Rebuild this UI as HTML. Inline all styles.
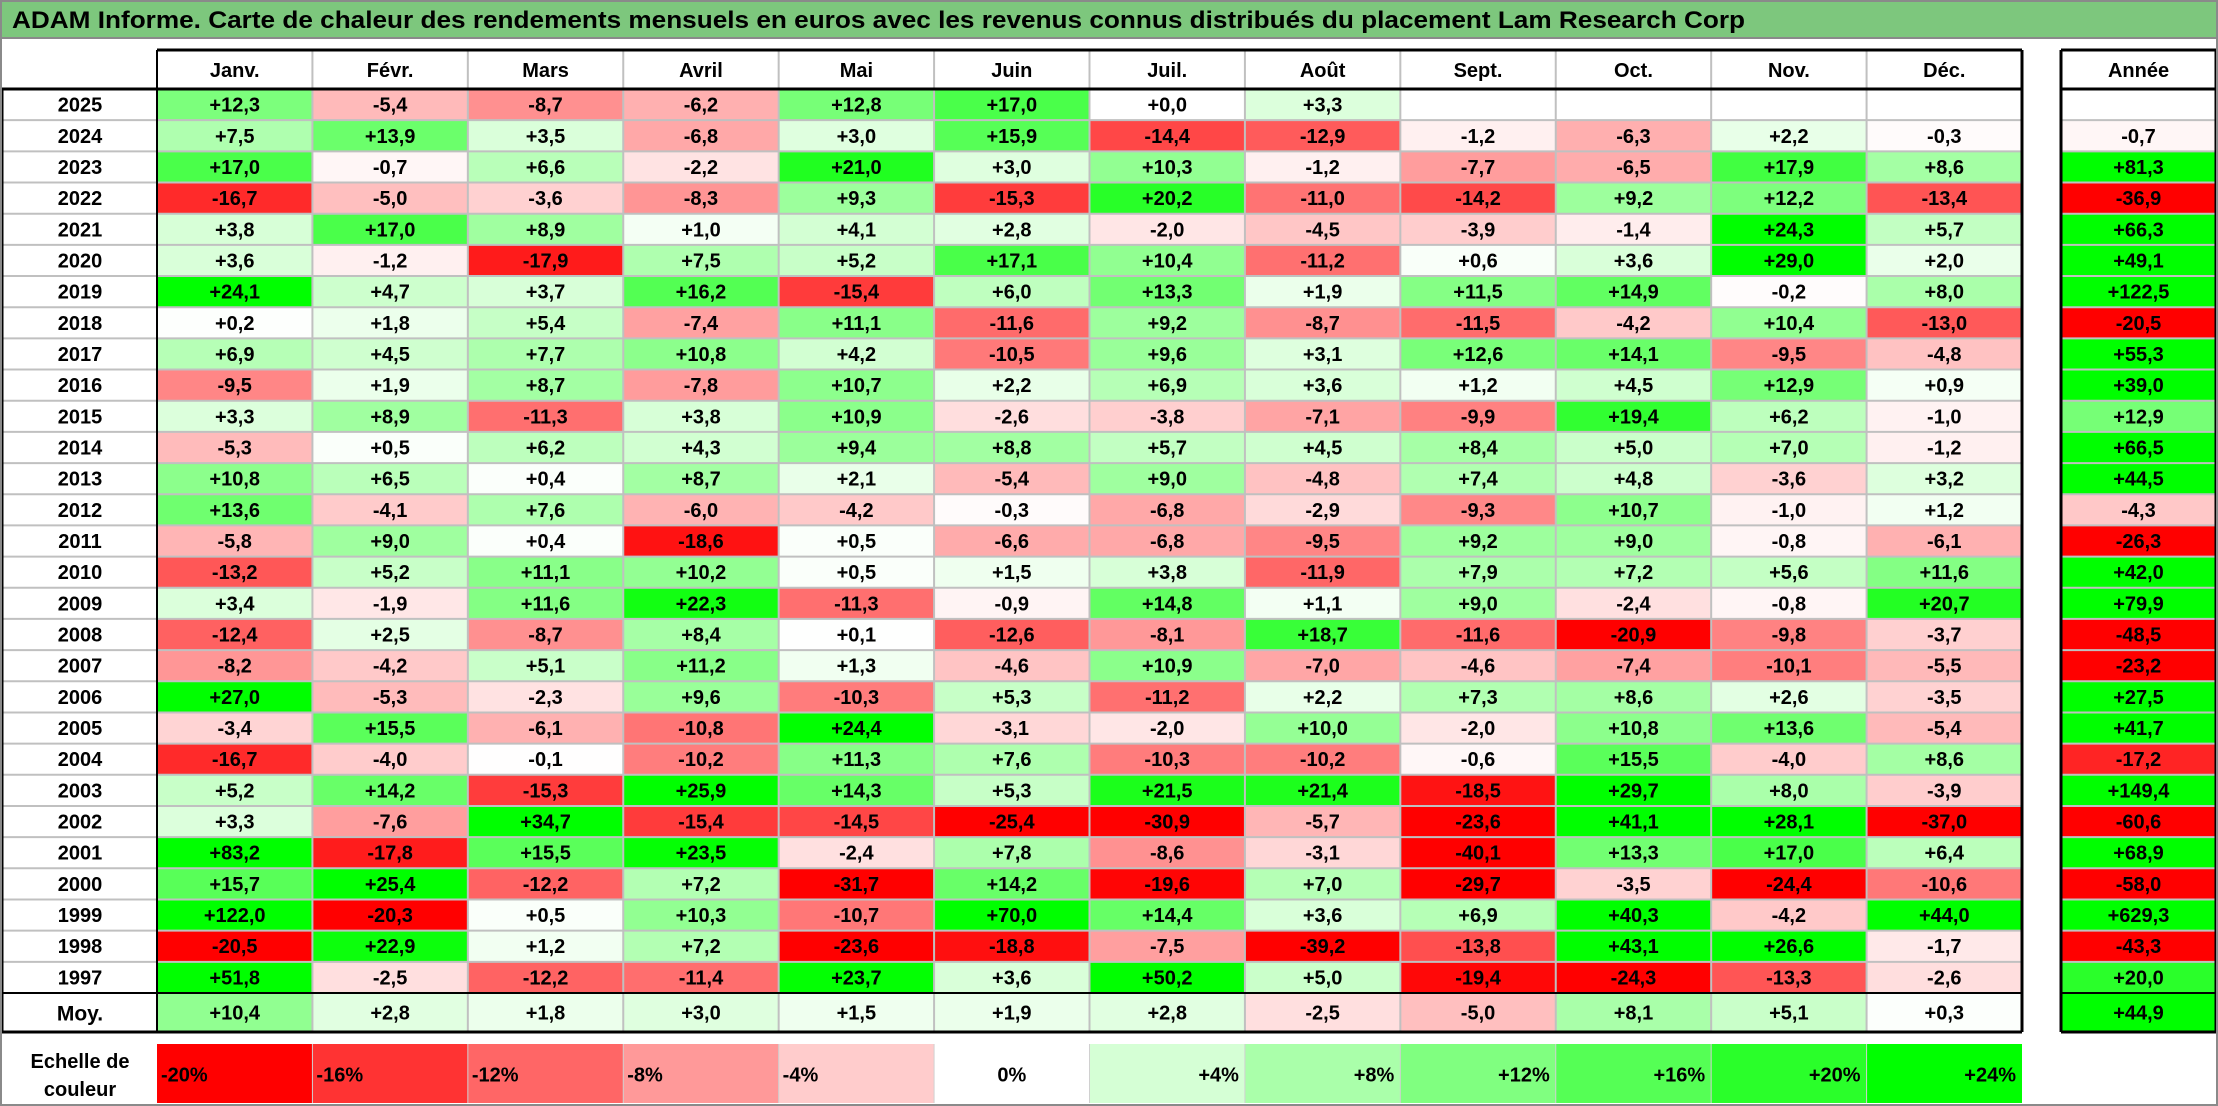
<!DOCTYPE html>
<html><head><meta charset="utf-8"><style>
html,body{margin:0;padding:0;background:#fff;}
svg{display:block;font-family:"Liberation Sans",Arial,sans-serif;font-weight:bold;}
</style></head><body>
<svg id="chart" xmlns="http://www.w3.org/2000/svg" width="2218" height="1106" viewBox="0 0 2218 1106">
<rect x="0" y="0" width="2218" height="1106" fill="#fff"/>
<rect x="1" y="1" width="2216" height="37" fill="#7dc77d" stroke="#8a8a8a" stroke-width="2"/>
<text x="12" y="28" font-size="24" textLength="1733" lengthAdjust="spacingAndGlyphs" fill="#000">ADAM Informe. Carte de chaleur des rendements mensuels en euros avec les revenus connus distribués du placement Lam Research Corp</text>
<g id="cells"></g>
<g id="lines"></g>
</svg>
<script>
const months = ["Janv.","Févr.","Mars","Avril","Mai","Juin","Juil.","Août","Sept.","Oct.","Nov.","Déc."];
const years = ["2025","2024","2023","2022","2021","2020","2019","2018","2017","2016","2015","2014","2013","2012","2011","2010","2009","2008","2007","2006","2005","2004","2003","2002","2001","2000","1999","1998","1997"];
const monthly = [
[12.3,-5.4,-8.7,-6.2,12.8,17.0,0.0,3.3,null,null,null,null],
[7.5,13.9,3.5,-6.8,3.0,15.9,-14.4,-12.9,-1.2,-6.3,2.2,-0.3],
[17.0,-0.7,6.6,-2.2,21.0,3.0,10.3,-1.2,-7.7,-6.5,17.9,8.6],
[-16.7,-5.0,-3.6,-8.3,9.3,-15.3,20.2,-11.0,-14.2,9.2,12.2,-13.4],
[3.8,17.0,8.9,1.0,4.1,2.8,-2.0,-4.5,-3.9,-1.4,24.3,5.7],
[3.6,-1.2,-17.9,7.5,5.2,17.1,10.4,-11.2,0.6,3.6,29.0,2.0],
[24.1,4.7,3.7,16.2,-15.4,6.0,13.3,1.9,11.5,14.9,-0.2,8.0],
[0.2,1.8,5.4,-7.4,11.1,-11.6,9.2,-8.7,-11.5,-4.2,10.4,-13.0],
[6.9,4.5,7.7,10.8,4.2,-10.5,9.6,3.1,12.6,14.1,-9.5,-4.8],
[-9.5,1.9,8.7,-7.8,10.7,2.2,6.9,3.6,1.2,4.5,12.9,0.9],
[3.3,8.9,-11.3,3.8,10.9,-2.6,-3.8,-7.1,-9.9,19.4,6.2,-1.0],
[-5.3,0.5,6.2,4.3,9.4,8.8,5.7,4.5,8.4,5.0,7.0,-1.2],
[10.8,6.5,0.4,8.7,2.1,-5.4,9.0,-4.8,7.4,4.8,-3.6,3.2],
[13.6,-4.1,7.6,-6.0,-4.2,-0.3,-6.8,-2.9,-9.3,10.7,-1.0,1.2],
[-5.8,9.0,0.4,-18.6,0.5,-6.6,-6.8,-9.5,9.2,9.0,-0.8,-6.1],
[-13.2,5.2,11.1,10.2,0.5,1.5,3.8,-11.9,7.9,7.2,5.6,11.6],
[3.4,-1.9,11.6,22.3,-11.3,-0.9,14.8,1.1,9.0,-2.4,-0.8,20.7],
[-12.4,2.5,-8.7,8.4,0.1,-12.6,-8.1,18.7,-11.6,-20.9,-9.8,-3.7],
[-8.2,-4.2,5.1,11.2,1.3,-4.6,10.9,-7.0,-4.6,-7.4,-10.1,-5.5],
[27.0,-5.3,-2.3,9.6,-10.3,5.3,-11.2,2.2,7.3,8.6,2.6,-3.5],
[-3.4,15.5,-6.1,-10.8,24.4,-3.1,-2.0,10.0,-2.0,10.8,13.6,-5.4],
[-16.7,-4.0,-0.1,-10.2,11.3,7.6,-10.3,-10.2,-0.6,15.5,-4.0,8.6],
[5.2,14.2,-15.3,25.9,14.3,5.3,21.5,21.4,-18.5,29.7,8.0,-3.9],
[3.3,-7.6,34.7,-15.4,-14.5,-25.4,-30.9,-5.7,-23.6,41.1,28.1,-37.0],
[83.2,-17.8,15.5,23.5,-2.4,7.8,-8.6,-3.1,-40.1,13.3,17.0,6.4],
[15.7,25.4,-12.2,7.2,-31.7,14.2,-19.6,7.0,-29.7,-3.5,-24.4,-10.6],
[122.0,-20.3,0.5,10.3,-10.7,70.0,14.4,3.6,6.9,40.3,-4.2,44.0],
[-20.5,22.9,1.2,7.2,-23.6,-18.8,-7.5,-39.2,-13.8,43.1,26.6,-1.7],
[51.8,-2.5,-12.2,-11.4,23.7,3.6,50.2,5.0,-19.4,-24.3,-13.3,-2.6]
];
const yearly = [null,-0.7,81.3,-36.9,66.3,49.1,122.5,-20.5,55.3,39.0,12.9,66.5,44.5,-4.3,-26.3,42.0,79.9,-48.5,-23.2,27.5,41.7,-17.2,149.4,-60.6,68.9,-58.0,629.3,-43.3,20.0];
const averages = [10.4,2.8,1.8,3.0,1.5,1.9,2.8,-2.5,-5.0,8.1,5.1,0.3];
const averageYear = 44.9;
const scaleValues = [-20,-16,-12,-8,-4,0,4,8,12,16,20,24];
const scaleLabels = ["-20%","-16%","-12%","-8%","-4%","0%","+4%","+8%","+12%","+16%","+20%","+24%"];

const NS = "http://www.w3.org/2000/svg";
const X0 = 157, X1 = 2022, CW = (X1 - X0) / 12;
const AX0 = 2061, AX1 = 2216;
const HY0 = 50, Y0 = 89, Y1 = 993, RH = (Y1 - Y0) / years.length, MY1 = 1032;
const SY0 = 1044, SY1 = 1103;
const colX = i => X0 + i * CW;
const rowY = i => Y0 + i * RH;
function color(v){
  if (v === null) return "#ffffff";
  if (v >= 0){ const t = Math.min(v/24,1); const c = Math.round(255*(1-t)); return `rgb(${c},255,${c})`; }
  const t = Math.min(-v/20,1); const c = Math.round(255*(1-t)); return `rgb(255,${c},${c})`;
}
function fmt(v){ if (v === null) return ""; return (v >= 0 ? "+" : "-") + Math.abs(v).toFixed(1).replace(".", ","); }
const cells = document.getElementById("cells");
const lines = document.getElementById("lines");
function rect(parent, x, y, w, h, fill, name){
  const r = document.createElementNS(NS, "rect");
  r.setAttribute("x", x); r.setAttribute("y", y); r.setAttribute("width", w); r.setAttribute("height", h);
  r.setAttribute("fill", fill);
  
  
  parent.appendChild(r); return r;
}
function text(parent, x, y, s, anchor, size, name){
  const t = document.createElementNS(NS, "text");
  t.setAttribute("x", x); t.setAttribute("y", y); t.setAttribute("text-anchor", anchor);
  t.setAttribute("font-size", size); t.setAttribute("fill", "#000");
  t.textContent = s;
  
  
  parent.appendChild(t); return t;
}
function line(x1, y1, x2, y2, stroke, w, name){
  const l = document.createElementNS(NS, "line");
  l.setAttribute("x1", x1); l.setAttribute("y1", y1); l.setAttribute("x2", x2); l.setAttribute("y2", y2);
  l.setAttribute("stroke", stroke); l.setAttribute("stroke-width", w);
  
  
  lines.appendChild(l);
}
const FS = 20;
// headers
months.forEach((m, i) => text(cells, colX(i) + CW/2, HY0 + 27, m, "middle", FS, "month-header"));
text(cells, (AX0 + AX1)/2, HY0 + 27, "Année", "middle", FS, "year-total-header");
// body
years.forEach((yr, r) => {
  const y = rowY(r);
  text(cells, 80, y + RH/2 + 7, yr, "middle", FS, "year-label");
  monthly[r].forEach((v, c) => {
    rect(cells, colX(c), y, CW, RH, color(v), "heat-cell");
    if (v !== null) text(cells, colX(c) + CW/2, y + RH/2 + 7, fmt(v), "middle", FS, "cell-value");
  });
  rect(cells, AX0, y, AX1 - AX0, RH, color(yearly[r]), "year-total-cell");
  if (yearly[r] !== null) text(cells, (AX0 + AX1)/2, y + RH/2 + 7, fmt(yearly[r]), "middle", FS, "year-total-value");
});
// averages
const mh = MY1 - Y1;
text(cells, 80, Y1 + mh/2 + 8, "Moy.", "middle", 21, "average-label");
averages.forEach((v, c) => {
  rect(cells, colX(c), Y1, CW, mh, color(v), "average-cell");
  text(cells, colX(c) + CW/2, Y1 + mh/2 + 7, fmt(v), "middle", FS, "average-value");
});
rect(cells, AX0, Y1, AX1 - AX0, mh, color(averageYear), "average-year-cell");
text(cells, (AX0 + AX1)/2, Y1 + mh/2 + 7, fmt(averageYear), "middle", FS, "average-year-value");
// scale
text(cells, 80, 1068, "Echelle de", "middle", FS, "scale-label");
text(cells, 80, 1096, "couleur", "middle", FS, "scale-label");
scaleValues.forEach((v, i) => {
  rect(cells, colX(i), SY0, CW, SY1 - SY0, color(v), "scale-cell");
  let x = colX(i) + 4, a = "start";
  if (v === 0){ x = colX(i) + CW/2; a = "middle"; }
  else if (v > 0){ x = colX(i) + CW - 6; a = "end"; }
  text(cells, x, SY0 + (SY1 - SY0)/2 + 8, scaleLabels[i], a, FS, "scale-value");
});
// grid lines
for (let r = 1; r < years.length; r++){
  line(2, rowY(r), X1, rowY(r), "#c0c0c0", 2, "row-gridline");
  line(AX0, rowY(r), AX1, rowY(r), "#c0c0c0", 2, "row-gridline");
}
for (let c = 1; c < 12; c++){
  line(colX(c), HY0, colX(c), MY1, "#c0c0c0", 2, "column-gridline");
  line(colX(c), SY0, colX(c), SY1, "#d0d0d0", 1, "scale-divider");
}
// black borders
line(X0, HY0, X1, HY0, "#000", 3, "header-border");
line(X0, HY0, X0, MY1, "#000", 2, "label-column-border");
line(X1, HY0, X1, MY1, "#000", 3, "table-border");
line(2, Y0, X1, Y0, "#000", 3, "header-border");
line(2, Y0, 2, MY1, "#000", 3, "table-border");
line(2, Y1, X1, Y1, "#000", 2, "average-border");
line(2, MY1, X1, MY1, "#000", 3, "table-border");
line(AX0, HY0, AX1, HY0, "#000", 3, "year-box-border");
line(AX0, Y0, AX1, Y0, "#000", 3, "year-box-border");
line(AX0, Y1, AX1, Y1, "#000", 2, "year-box-border");
line(AX0, MY1, AX1, MY1, "#000", 3, "year-box-border");
line(AX0, HY0, AX0, MY1, "#000", 3, "year-box-border");
line(AX1, HY0, AX1, MY1, "#000", 3, "year-box-border");
// outer frame
line(1, 38, 1, 1105, "#8a8a8a", 2, "outer-frame");
line(2217, 38, 2217, 1105, "#8a8a8a", 2, "outer-frame");
line(0, 1105, 2218, 1105, "#8a8a8a", 2, "outer-frame");
</script>
</body></html>
